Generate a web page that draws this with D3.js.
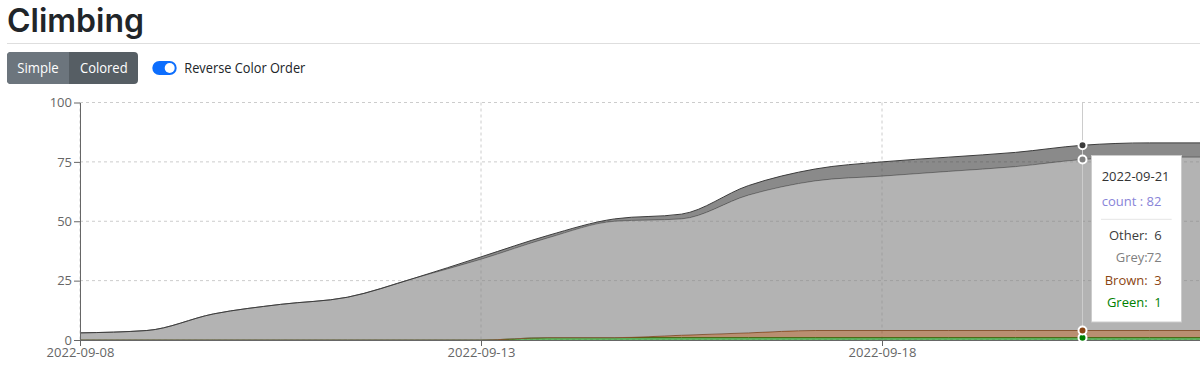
<!DOCTYPE html>
<html><head><meta charset="utf-8">
<script src="https://cdn.jsdelivr.net/npm/d3@7"></script>
<style>
html,body{margin:0;padding:0;background:#fff;overflow:hidden;}
svg{display:block;font-family:"Open Sans","Noto Sans",sans-serif;}
</style>
</head><body>
<svg id="c" width="1200" height="365"></svg>
<script>
// ---------------- data ----------------
const dates = ["2022-09-08","2022-09-09","2022-09-10","2022-09-10","2022-09-11","2022-09-12",
               "2022-09-13","2022-09-14","2022-09-15","2022-09-15","2022-09-16","2022-09-17",
               "2022-09-18","2022-09-19","2022-09-20","2022-09-21","2022-09-22","2022-09-23","2022-09-24"];
const green = [0,0,0,0,0,0,0,1,1,1,1,1,1,1,1,1,1,1,1];
const brown = [0,0,0,0,0,0,0,0,0,1,2,3,3,3,3,3,3,3,3];
const grey  = [3,4,11,15,18,26,34,42,49,49,58,63,65,67,69,72,73,73,73];
const other = [0,0,0,0,0,0,1,1,1,2,4,5,6,6,6,6,6,6,6];
const seriesNames  = ["Green","Brown","Grey","Other"];
const seriesColors = ["#008000","#8b4513","#808080","#3c3c3c"];
const yTicks = [0,25,50,75,100];
const xTickIdx = [0,6,12];
const activeIndex = 15;

// ---------------- setup ----------------
const svg = d3.select("#c");
const rows = dates.map((d,i)=>({i, date:d, Green:green[i], Brown:brown[i], Grey:grey[i], Other:other[i]}));
const stack = d3.stack().keys(seriesNames)(rows);

const x = d3.scalePoint().domain(d3.range(dates.length)).range([80, 1283]);
const y = d3.scaleLinear().domain([0,100]).range([340, 102.5]);

// ---------------- header ----------------
svg.append("text").attr("x",7).attr("y",31.7).attr("font-size",32).attr("font-weight",600)
   .attr("font-family","Inter,'Open Sans',sans-serif")
   .attr("fill","#212529").attr("textLength",137).attr("lengthAdjust","spacingAndGlyphs").text("Climbing");
svg.append("line").attr("x1",7).attr("x2",1200).attr("y1",43.5).attr("y2",43.5).attr("stroke","#dedede");

const bg = svg.append("g");
bg.append("rect").attr("x",7).attr("y",52).attr("width",131).attr("height",32).attr("rx",4).attr("fill","#565e64");
bg.append("path").attr("d","M11,52 H69 V84 H11 A4,4 0 0 1 7,80 V56 A4,4 0 0 1 11,52 Z").attr("fill","#6c757d");
bg.append("text").attr("x",38).attr("y",73).attr("text-anchor","middle").attr("font-size",14).attr("fill","#fff")
  .attr("textLength",41.6).attr("lengthAdjust","spacingAndGlyphs").text("Simple");
bg.append("text").attr("x",103.8).attr("y",73).attr("text-anchor","middle").attr("font-size",14).attr("fill","#fff")
  .attr("textLength",47.7).attr("lengthAdjust","spacingAndGlyphs").text("Colored");

svg.append("rect").attr("x",152.3).attr("y",61).attr("width",24.4).attr("height",14).attr("rx",7).attr("fill","#0d6efd");
svg.append("circle").attr("cx",169.7).attr("cy",68).attr("r",5).attr("fill","#fff");
svg.append("text").attr("x",184.3).attr("y",73).attr("font-size",14).attr("fill","#212529")
  .attr("textLength",121).attr("lengthAdjust","spacingAndGlyphs").text("Reverse Color Order");

// ---------------- grid ----------------
const grid = svg.append("g").attr("stroke","#ccc").attr("stroke-dasharray","3 3");
yTicks.forEach(v=>grid.append("line").attr("x1",80).attr("x2",1283).attr("y1",y(v)).attr("y2",y(v)));
xTickIdx.forEach(i=>grid.append("line").attr("x1",x(i)).attr("x2",x(i)).attr("y1",y(100)).attr("y2",y(0)));

// ---------------- areas ----------------
const area = d3.area().x(d=>x(d.data.i)).y0(d=>y(d[0])).y1(d=>y(d[1])).curve(d3.curveMonotoneX);
const line = d3.line().x(d=>x(d.data.i)).y(d=>y(d[1])).curve(d3.curveMonotoneX);
stack.forEach((s,k)=>{
  svg.append("path").attr("d",area(s)).attr("fill",seriesColors[k]).attr("fill-opacity",0.6).attr("stroke","none");
  svg.append("path").attr("d",line(s)).attr("fill","none").attr("stroke",seriesColors[k]).attr("stroke-width",1);
});

// ---------------- axes ----------------
const yAxis = svg.append("g").attr("transform","translate(80,0)")
  .call(d3.axisLeft(y).tickValues(yTicks).tickSize(6).tickSizeOuter(0).tickPadding(2));
const xAxis = svg.append("g").attr("transform","translate(0,340)")
  .call(d3.axisBottom(x).tickValues(xTickIdx).tickFormat(i=>dates[i]).tickSize(6).tickSizeOuter(0).tickPadding(1.5));
[yAxis,xAxis].forEach(a=>{
  a.selectAll("path,line").attr("stroke","#666");
  a.selectAll("text").attr("fill","#666").attr("font-size",13).attr("font-family","'Open Sans','Noto Sans',sans-serif");
});

// ---------------- cursor & active dots ----------------
const cx = x(activeIndex);
svg.append("line").attr("x1",cx).attr("x2",cx).attr("y1",y(100)).attr("y2",y(0)).attr("stroke","#ccc");
stack.forEach((s,k)=>{
  svg.append("circle").attr("cx",cx).attr("cy",y(s[activeIndex][1])).attr("r",4)
     .attr("fill",seriesColors[k]).attr("stroke","#fff").attr("stroke-width",2);
});

// ---------------- tooltip ----------------
const tt = svg.append("g");
tt.append("rect").attr("x",1091.5).attr("y",155.5).attr("width",90).attr("height",166.5)
  .attr("fill","#fff").attr("stroke","#ccc");
tt.append("text").attr("x",1101.7).attr("y",181.3).attr("font-size",13).attr("fill","#333")
  .text(dates[activeIndex]);
const total = d3.sum(seriesNames, n=>rows[activeIndex][n]);
tt.append("text").attr("x",1101.7).attr("y",205.6).attr("font-size",13).attr("fill","#8884d8")
  .text("count : " + total);
tt.append("line").attr("x1",1101).attr("x2",1171.7).attr("y1",219.3).attr("y2",219.3).attr("stroke","#e5e5e5");
const rowY = [235.7,257.7,280,302.7];
const textColors = ["#008000","#8b4513","#808080","#3c3c3c"];
seriesNames.slice().reverse().forEach((n,j)=>{
  const k = seriesNames.indexOf(n);
  tt.append("text").attr("x",1147.7).attr("y",rowY[j]+4.6).attr("text-anchor","end").attr("font-size",13)
    .attr("fill",textColors[k]).text(n+":");
  tt.append("text").attr("x",1161.7).attr("y",rowY[j]+4.6).attr("text-anchor","end").attr("font-size",13)
    .attr("fill",textColors[k]).text(rows[activeIndex][n]);
});
</script>
</body></html>
